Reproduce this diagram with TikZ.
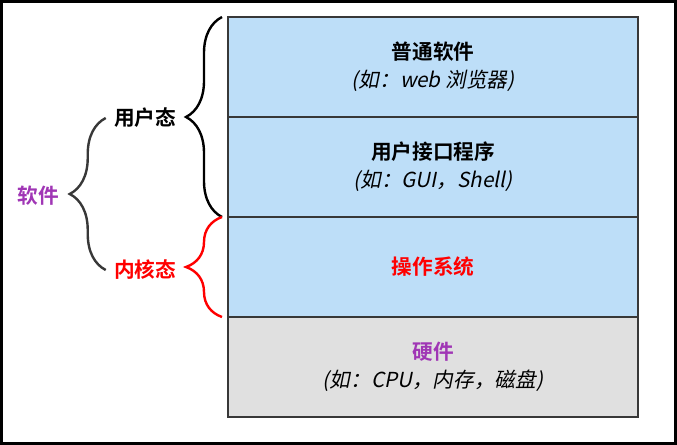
\documentclass[tikz,border=0pt]{standalone}
\usepackage{fontspec}
\setmainfont{Noto Sans CJK SC}[BoldFont={Noto Sans CJK SC Bold}]
\newfontfamily\exfont{Noto Sans CJK SC}[FakeSlant=0.2]
\usetikzlibrary{positioning,decorations.pathreplacing}
\definecolor{layerblue}{HTML}{BDDEF8}
\definecolor{layergray}{HTML}{E0E0E0}
\definecolor{edgegray}{HTML}{383838}
\definecolor{swpurple}{HTML}{A036B5}

\begin{document}
\begin{tikzpicture}[x=0.75pt,y=-0.75pt,
  font=\fontsize{15.5pt}{18pt}\selectfont,
  layer/.style={draw=edgegray,line width=1.6pt,minimum width=307.5pt,minimum height=75pt,
    align=center,inner sep=0pt,outer sep=0pt},
  soft/.style={layer,fill=layerblue},
  hard/.style={layer,fill=layergray},
  lbl/.style={font=\fontsize{15.5pt}{18pt}\selectfont\bfseries,inner sep=0pt},
  curly/.style={decorate,decoration={brace,amplitude=27pt},line width=1.8pt}]
\useasboundingbox (0,0) rectangle (677,445);
\draw[line width=2.3pt] (1.5,1.5) rectangle (675.5,443.5);
% ---- the four layers, stacked top to bottom ----
\node[soft] (app) at (433,67) {\textbf{普通软件}\\[3pt] {\exfont (如：web 浏览器)}};
\node[soft,below=0pt of app] (ui) {\textbf{用户接口程序}\\[3pt] {\exfont (如：GUI，Shell)}};
\node[soft,below=0pt of ui] (os) {\textcolor{red}{\textbf{操作系统}}};
\node[hard,below=0pt of os] (hw) {\textcolor{swpurple}{\textbf{硬件}}\\[3pt] {\exfont (如：CPU，内存，磁盘)}};
% ---- labels and braces on the left ----
\node[lbl] (user) at (145,118) {用户态};
\node[lbl,text=red] (kernel) at (145,270) {内核态};
\node[lbl,text=swpurple] (sw) at (38,196) {软件};
\draw[curly] ([xshift=-4.5pt]ui.south west) -- ([xshift=-4.5pt]app.north west);
\draw[curly,red] ([xshift=-4.5pt]os.south west) -- ([xshift=-4.5pt]os.north west);
\draw[curly,edgegray] ([xshift=-6pt]kernel.west) -- ([xshift=-6pt]user.west);
\end{tikzpicture}
\end{document}
